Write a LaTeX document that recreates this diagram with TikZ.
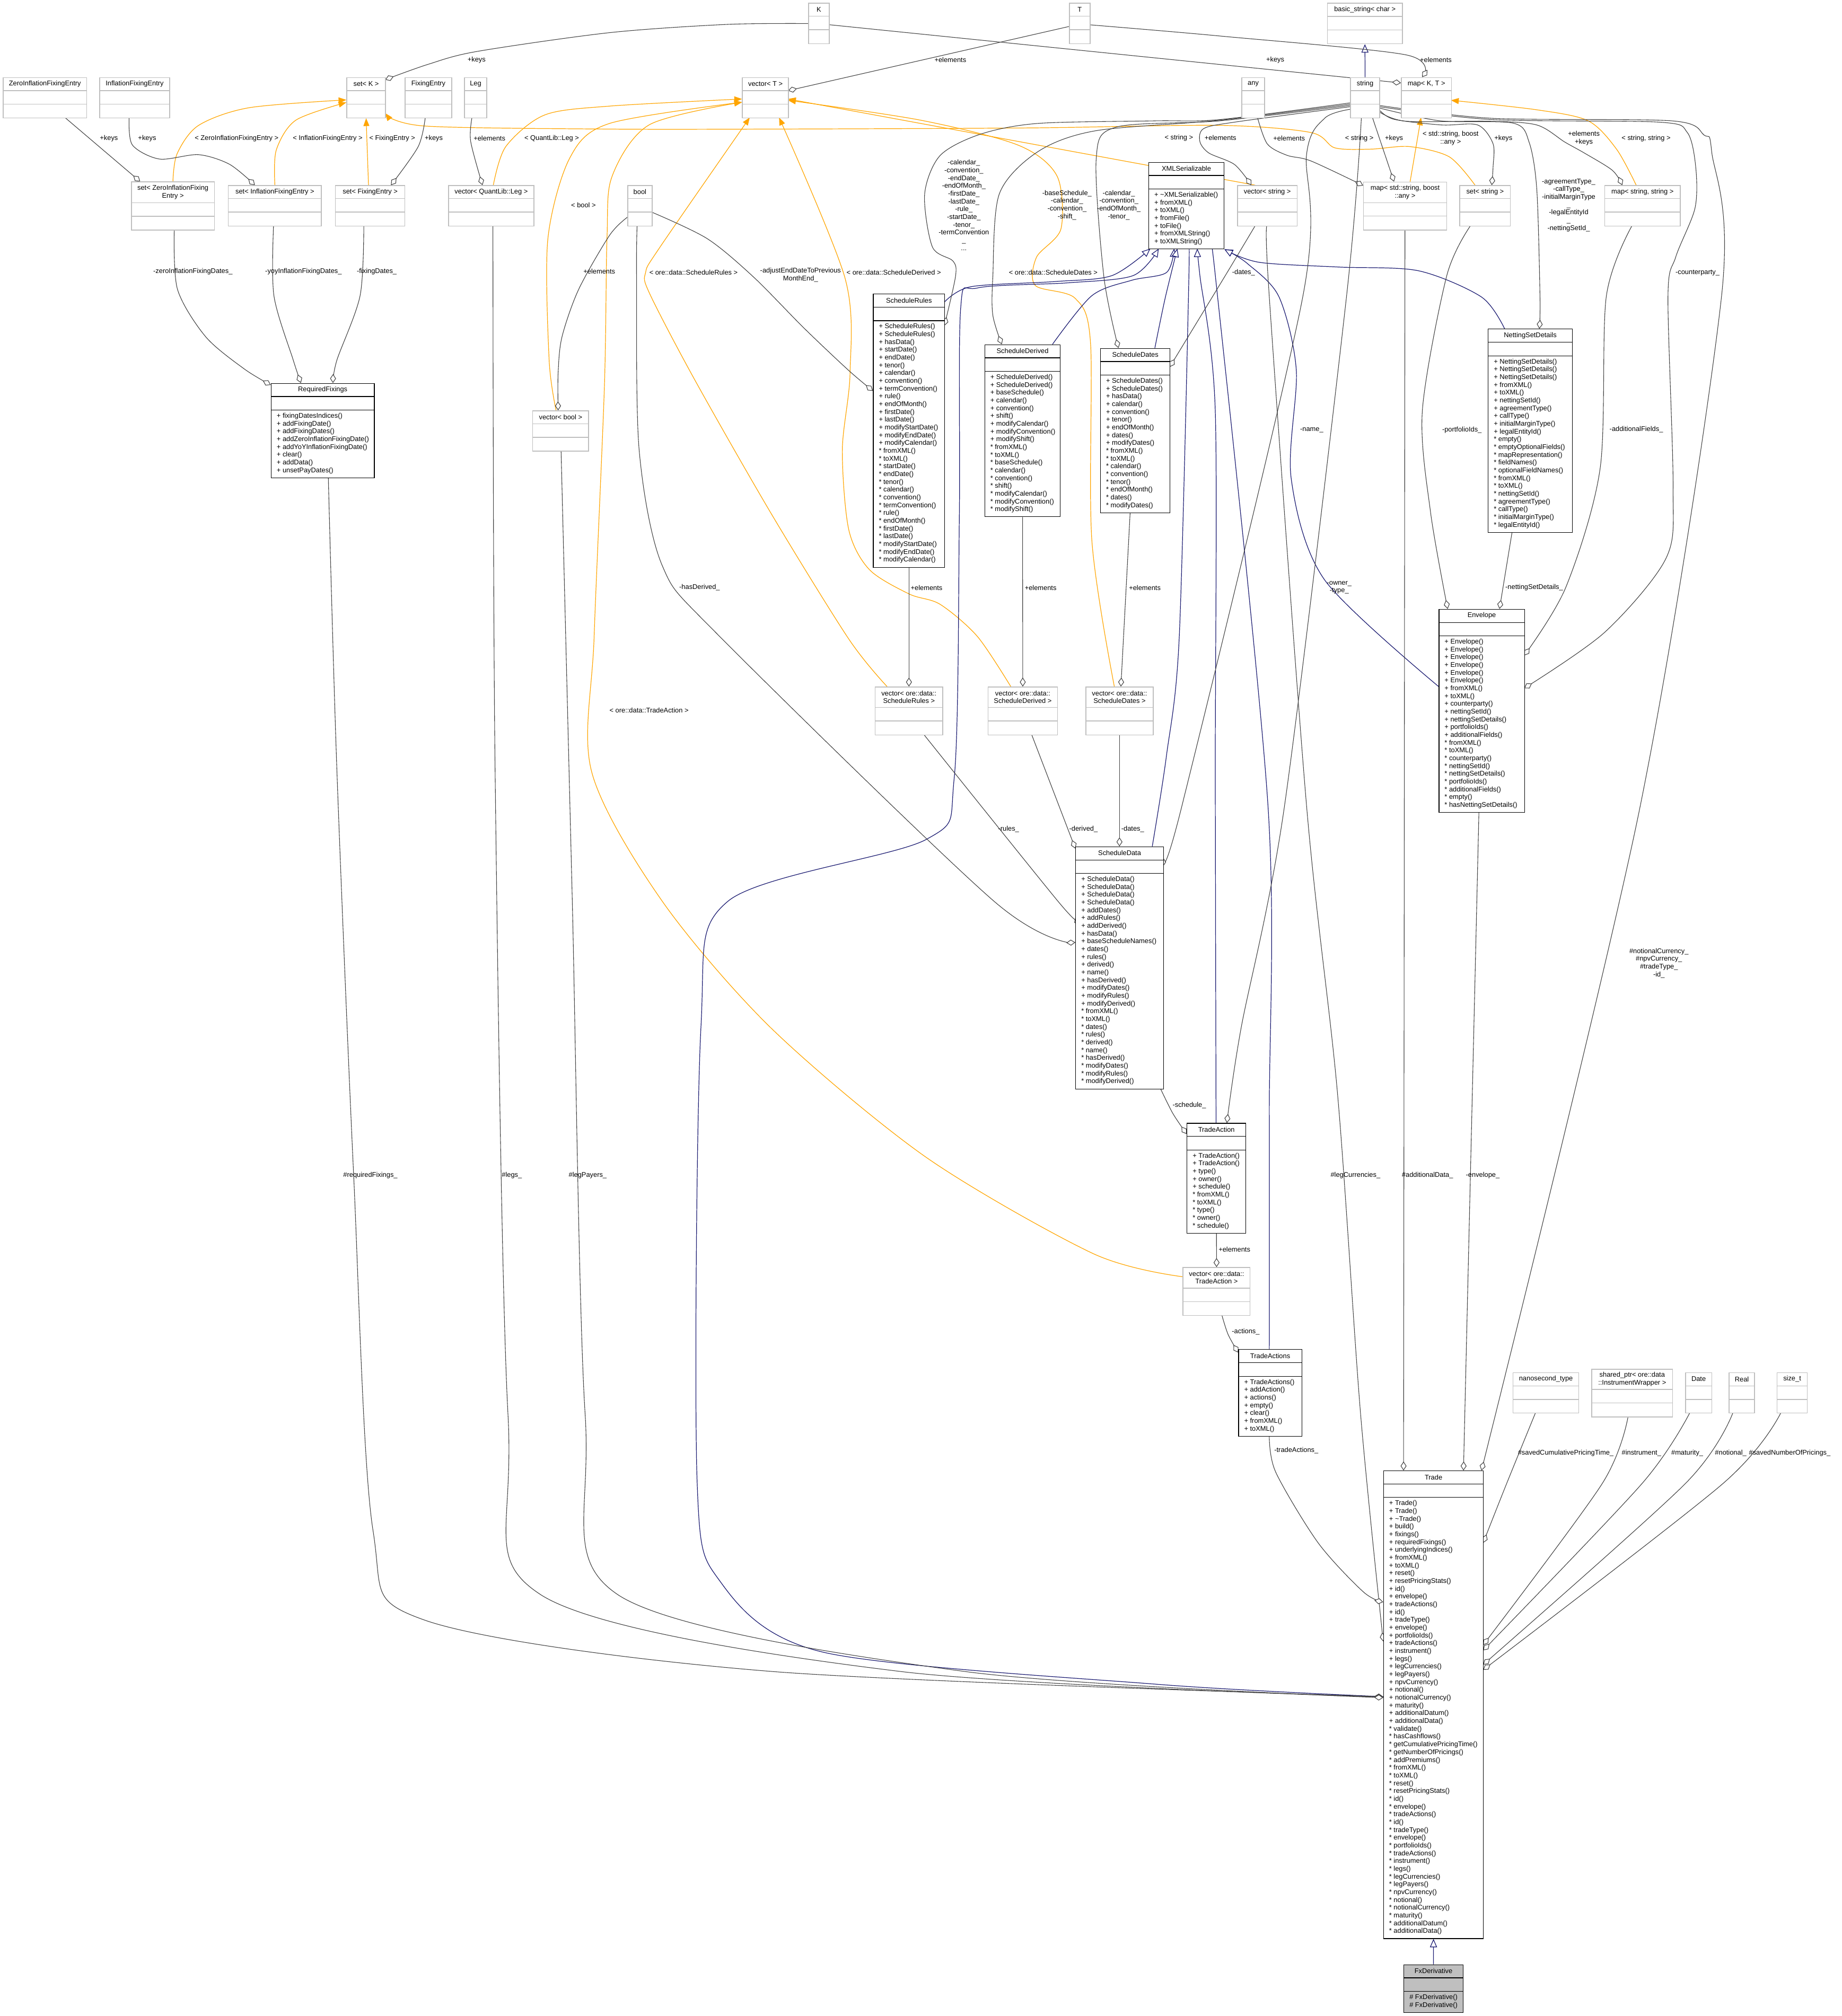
\documentclass[tikz,border=0pt]{standalone}
\usepackage{fontspec}
\newfontfamily\umlsans{Liberation Sans}
\usetikzlibrary{arrows.meta}

\definecolor{boxgray}{HTML}{BFBFBF}
\definecolor{edgegray}{HTML}{404040}
\definecolor{tplorange}{HTML}{FFA500}
\definecolor{inhblue}{HTML}{191970}

\newcommand{\umlfont}{\umlsans\fontsize{5.3}{6.05}\selectfont}

\pgfdeclarelayer{edges}
\pgfsetlayers{edges,main}

\tikzset{
  umlframe/.style={shape=rectangle,anchor=north west,inner sep=0pt,fill=white},
  ext/.style={draw=boxgray,line width=0.6pt},
  cls/.style={draw=black,line width=0.5pt},
  base/.style={draw=black,line width=0.5pt,fill=boxgray},
  umltitle/.style={font=\umlfont,inner sep=0pt,align=center},
  umlops/.style={font=\umlfont,inner sep=0pt,align=left,anchor=north west},
  lbl/.style={font=\umlfont,inner sep=0pt,align=center},
  assoc/.style={draw=edgegray,line width=0.45pt,-{Diamond[length=7pt,width=4.6pt,fill=white]}},
  tmpl/.style={draw=tplorange,line width=0.5pt,-{Triangle[length=6pt,width=4.6pt]}},
  isa/.style={draw=inhblue,line width=0.5pt,-{Triangle[length=6.5pt,width=5.5pt,fill=white]}}
}

% class box: [style]{name}{x}{y}{width}{height}{title height}{title}{operations}
\newcommand{\umlclass}[9][]{%
  \node[umlframe,#1,minimum width=#5pt,minimum height=#6pt] (#2) at (#3,#4) {};
  \draw[#1] ([yshift=-#7pt]#2.north west) -- ([yshift=-#7pt]#2.north east)
    ([yshift=-#7pt-10.5pt]#2.north west) -- ([yshift=-#7pt-10.5pt]#2.north east);
  \node[umltitle] (#2title) at ([yshift=-#7pt/2]#2.north) {#8};
  \node[umlops] (#2ops) at ([shift={(4.4pt,-#7pt-12.6pt)}]#2.north west) {#9};
}

\begin{document}
\begin{tikzpicture}[x=1pt,y=-1pt]
\useasboundingbox (0,0) rectangle (1432,1568);

% external types
\umlclass[ext]{nK}{628.5}{2.1}{16}{31.6}{10.5}{K}{}
\umlclass[ext]{nT}{831.3}{2.1}{16}{31.6}{10.5}{T}{}
\umlclass[ext]{nBasicStr}{1031.8}{2.2}{58.5}{31.6}{10.5}{basic\_string< char >}{}
\umlclass[ext]{nZeroEntry}{2.1}{60}{65.1}{31.4}{10.5}{ZeroInflationFixingEntry}{}
\umlclass[ext]{nInflEntry}{77.2}{60}{54.4}{31.4}{10.5}{InflationFixingEntry}{}
\umlclass[ext]{nSetK}{269.3}{60}{30.2}{31.4}{10.5}{set< K >}{}
\umlclass[ext]{nFixEntry}{314.7}{60}{36.3}{31.4}{10.5}{FixingEntry}{}
\umlclass[ext]{nLeg}{360.9}{60}{17.3}{31.4}{10.5}{Leg}{}
\umlclass[ext]{nVecT}{577}{60}{35.8}{31.4}{10.5}{vector< T >}{}
\umlclass[ext]{nAny}{965.4}{60}{17.6}{31.4}{10.5}{any}{}
\umlclass[ext]{nString}{1049.9}{60}{22.6}{31.4}{10.5}{string}{}
\umlclass[ext]{nMapKT}{1089.4}{60}{38.9}{31.4}{10.5}{map< K, T >}{}
\umlclass[ext]{nSetZero}{101.9}{141.2}{64.5}{37.5}{16.5}{set< ZeroInflationFixing\\Entry >}{}
\umlclass[ext]{nSetInfl}{177.3}{144}{72.3}{31.6}{10.5}{set< InflationFixingEntry >}{}
\umlclass[ext]{nSetFix}{260.5}{144}{54.1}{31.6}{10.5}{set< FixingEntry >}{}
\umlclass[ext]{nVecLeg}{348.5}{144}{66.3}{31.6}{10.5}{vector< QuantLib::Leg >}{}
\umlclass[ext]{nBool}{487.8}{144}{19}{31.6}{10.5}{bool}{}
\umlclass[ext]{nVecStr}{962}{144}{46.3}{31.6}{10.5}{vector< string >}{}
\umlclass[ext]{nMapAny}{1060}{141.3}{64.6}{37.3}{16.3}{map< std::string, boost\\::any >}{}
\umlclass[ext]{nSetStr}{1134.8}{144}{39.4}{31.6}{10.5}{set< string >}{}
\umlclass[ext]{nMapStr}{1247.6}{144}{58.6}{31.6}{10.5}{map< string, string >}{}
\umlclass[ext]{nVecBool}{413.9}{319.2}{43.5}{31.4}{10.5}{vector< bool >}{}
\umlclass[ext]{nVecRules}{680.3}{534}{52.4}{37.3}{16.3}{vector< ore::data::\\ScheduleRules >}{}
\umlclass[ext]{nVecDerived}{768}{534}{54}{37.3}{16.3}{vector< ore::data::\\ScheduleDerived >}{}
\umlclass[ext]{nVecDates}{844}{534}{52.5}{37.3}{16.3}{vector< ore::data::\\ScheduleDates >}{}
\umlclass[ext]{nVecAction}{919.6}{985.5}{52.2}{37.3}{16.3}{vector< ore::data::\\TradeAction >}{}
\umlclass[ext]{nNano}{1176.2}{1067.4}{51.2}{31.4}{10.5}{nanosecond\_type}{}
\umlclass[ext]{nShared}{1237.5}{1064.6}{62.8}{37.1}{16.1}{shared\_ptr< ore::data\\::InstrumentWrapper >}{}
\umlclass[ext]{nDate}{1310.4}{1067.4}{20.3}{31.4}{10.5}{Date}{}
\umlclass[ext]{nReal}{1344.3}{1067.4}{19.7}{31.4}{10.5}{Real}{}
\umlclass[ext]{nSizeT}{1381.5}{1067.4}{23.6}{31.4}{10.5}{size\_t}{}

% documented classes
\umlclass[cls]{nXML}{893}{126}{58.6}{67.4}{10.5}{XMLSerializable}{+ \textasciitilde XMLSerializable()\\+ fromXML()\\+ toXML()\\+ fromFile()\\+ toFile()\\+ fromXMLString()\\+ toXMLString()}
\umlclass[cls]{nRules}{678.8}{228.4}{55.5}{212.6}{10.5}{ScheduleRules}{+ ScheduleRules()\\+ ScheduleRules()\\+ hasData()\\+ startDate()\\+ endDate()\\+ tenor()\\+ calendar()\\+ convention()\\+ termConvention()\\+ rule()\\+ endOfMonth()\\+ firstDate()\\+ lastDate()\\+ modifyStartDate()\\+ modifyEndDate()\\+ modifyCalendar()\\* fromXML()\\* toXML()\\* startDate()\\* endDate()\\* tenor()\\* calendar()\\* convention()\\* termConvention()\\* rule()\\* endOfMonth()\\* firstDate()\\* lastDate()\\* modifyStartDate()\\* modifyEndDate()\\* modifyCalendar()}
\umlclass[cls]{nDerived}{765.5}{267.8}{58.8}{133.9}{10.5}{ScheduleDerived}{+ ScheduleDerived()\\+ ScheduleDerived()\\+ baseSchedule()\\+ calendar()\\+ convention()\\+ shift()\\+ modifyCalendar()\\+ modifyConvention()\\+ modifyShift()\\* fromXML()\\* toXML()\\* baseSchedule()\\* calendar()\\* convention()\\* shift()\\* modifyCalendar()\\* modifyConvention()\\* modifyShift()}
\umlclass[cls]{nDates}{855.5}{270.7}{54.1}{127.9}{10.5}{ScheduleDates}{+ ScheduleDates()\\+ ScheduleDates()\\+ hasData()\\+ calendar()\\+ convention()\\+ tenor()\\+ endOfMonth()\\+ dates()\\+ modifyDates()\\* fromXML()\\* toXML()\\* calendar()\\* convention()\\* tenor()\\* endOfMonth()\\* dates()\\* modifyDates()}
\umlclass[cls]{nNetting}{1157}{255.7}{65.4}{158.1}{10.5}{NettingSetDetails}{+ NettingSetDetails()\\+ NettingSetDetails()\\+ NettingSetDetails()\\+ fromXML()\\+ toXML()\\+ nettingSetId()\\+ agreementType()\\+ callType()\\+ initialMarginType()\\+ legalEntityId()\\* empty()\\* emptyOptionalFields()\\* mapRepresentation()\\* fieldNames()\\* optionalFieldNames()\\* fromXML()\\* toXML()\\* nettingSetId()\\* agreementType()\\* callType()\\* initialMarginType()\\* legalEntityId()}
\umlclass[cls]{nEnvelope}{1118.7}{473.6}{66.5}{158.1}{10.5}{Envelope}{+ Envelope()\\+ Envelope()\\+ Envelope()\\+ Envelope()\\+ Envelope()\\+ Envelope()\\+ fromXML()\\+ toXML()\\+ counterparty()\\+ nettingSetId()\\+ nettingSetDetails()\\+ portfolioIds()\\+ additionalFields()\\* fromXML()\\* toXML()\\* counterparty()\\* nettingSetId()\\* nettingSetDetails()\\* portfolioIds()\\* additionalFields()\\* empty()\\* hasNettingSetDetails()}
\umlclass[cls]{nReqFix}{210.6}{297.9}{80.2}{73.4}{10.5}{RequiredFixings}{+ fixingDatesIndices()\\+ addFixingDate()\\+ addFixingDates()\\+ addZeroInflationFixingDate()\\+ addYoYInflationFixingDate()\\+ clear()\\+ addData()\\+ unsetPayDates()}
\umlclass[cls]{nSchedData}{836.2}{658.3}{68.3}{188.4}{10.5}{ScheduleData}{+ ScheduleData()\\+ ScheduleData()\\+ ScheduleData()\\+ ScheduleData()\\+ addDates()\\+ addRules()\\+ addDerived()\\+ hasData()\\+ baseScheduleNames()\\+ dates()\\+ rules()\\+ derived()\\+ name()\\+ hasDerived()\\+ modifyDates()\\+ modifyRules()\\+ modifyDerived()\\* fromXML()\\* toXML()\\* dates()\\* rules()\\* derived()\\* name()\\* hasDerived()\\* modifyDates()\\* modifyRules()\\* modifyDerived()}
\umlclass[cls]{nTradeAction}{922.8}{873.4}{45.7}{85.5}{10.5}{TradeAction}{+ TradeAction()\\+ TradeAction()\\+ type()\\+ owner()\\+ schedule()\\* fromXML()\\* toXML()\\* type()\\* owner()\\* schedule()}
\umlclass[cls]{nTradeActions}{962.9}{1049.4}{49.1}{67.4}{10.5}{TradeActions}{+ TradeActions()\\+ addAction()\\+ actions()\\+ empty()\\+ clear()\\+ fromXML()\\+ toXML()}
\umlclass[cls]{nTrade}{1075.6}{1143.7}{77.7}{363.8}{10.5}{Trade}{+ Trade()\\+ Trade()\\+ \textasciitilde Trade()\\+ build()\\+ fixings()\\+ requiredFixings()\\+ underlyingIndices()\\+ fromXML()\\+ toXML()\\+ reset()\\+ resetPricingStats()\\+ id()\\+ envelope()\\+ tradeActions()\\+ id()\\+ tradeType()\\+ envelope()\\+ portfolioIds()\\+ tradeActions()\\+ instrument()\\+ legs()\\+ legCurrencies()\\+ legPayers()\\+ npvCurrency()\\+ notional()\\+ notionalCurrency()\\+ maturity()\\+ additionalDatum()\\+ additionalData()\\* validate()\\* hasCashflows()\\* getCumulativePricingTime()\\* getNumberOfPricings()\\* addPremiums()\\* fromXML()\\* toXML()\\* reset()\\* resetPricingStats()\\* id()\\* envelope()\\* tradeActions()\\* id()\\* tradeType()\\* envelope()\\* portfolioIds()\\* tradeActions()\\* instrument()\\* legs()\\* legCurrencies()\\* legPayers()\\* npvCurrency()\\* notional()\\* notionalCurrency()\\* maturity()\\* additionalDatum()\\* additionalData()}
\umlclass[base]{nFx}{1091.4}{1527.8}{46}{37.1}{10.5}{FxDerivative}{\# FxDerivative()\\\# FxDerivative()}

\begin{pgfonlayer}{edges}
% template instances
\draw[tmpl] plot[smooth] coordinates {(nSetZero.north) (137.7,119.6) (154.3,97.6) (193.6,83.8) ([shift={(0,17.7)}]nSetK.north west)};
\draw[tmpl] plot[smooth] coordinates {(nSetInfl.north) (214.8,116.8) (230,93.5) ([shift={(0,19.7)}]nSetK.north west)};
\draw[tmpl] ([xshift=-1.3pt]nSetFix.north) -- (nSetK.south);
\draw[tmpl] plot[smooth] coordinates {([shift={(35.1,0)}]nVecLeg.north west) (393.3,114) (423.6,89.4) (474.3,82.5) ([shift={(0,17)}]nVecT.north west)};
\draw[tmpl] plot[smooth] coordinates {([shift={(18.5,0)}]nVecBool.north west) (427,280) (426,186) (443,123) (474,96) ([shift={(0,19.5)}]nVecT.north west)};
\draw[tmpl] plot[smooth] coordinates {([shift={(0,7.5)}]nVecAction.north west) (850,975) (720,900) (600,800) (515,701) (460,600) (462,495) (470,300) (472,185) (476,137) (505,97) ([shift={(0,19.5)}]nVecT.north west)};
\draw[tmpl] plot[smooth] coordinates {([shift={(9.5,0)}]nVecRules.north west) (660,497) (600,400) (540,295) (505,228) (502,212) (513,192.5) ([shift={(6,31.4)}]nVecT.north west)};
\draw[tmpl] plot[smooth] coordinates {([shift={(18,0)}]nVecDerived.north west) (760,495) (731,470) (707,462) (676,443) (660,412) (655,350) (661,290) (657,216) ([shift={(28.8,31.4)}]nVecT.north west)};
\draw[tmpl] plot[smooth] coordinates {([shift={(22.5,0)}]nVecDates.north west) (849,420) (848,267) (836,232) (805,222) (806,200) (825,178) (822,137) (792,113) (716,93.5) ([shift={(35.8,18)}]nVecT.north west)};
\draw[tmpl] ([shift={(14,0)}]nVecStr.north west) -- ([shift={(35.8,17)}]nVecT.north west);
\draw[tmpl] plot[smooth] coordinates {([shift={(12.2,0)}]nSetStr.north west) (1127,122) (1096,114) (1066,116) (1038,115) (1019,103) (948,97.5) (800,99.5) (600,100.4) (474,100.4) (330,98) ([shift={(30.2,28)}]nSetK.north west)};
\draw[tmpl] ([shift={(36.5,0)}]nMapAny.north west) -- ([shift={(15.6,31.4)}]nMapKT.north west);
\draw[tmpl] plot[smooth] coordinates {([shift={(24.7,0)}]nMapStr.north west) (1257,116) (1235,94) (1195,85.4) ([shift={(38.9,18)}]nMapKT.north west)};

% inheritance
\draw[isa] (nString.north) -- (nBasicStr.south);
\draw[isa] (nFx.north) -- (nTrade.south);
\draw[isa] plot[smooth] coordinates {([shift={(55.5,6.6)}]nRules.north west) (755,223) (820,219) (864.5,214.4) ([shift={(1.5,67.4)}]nXML.north west)};
\draw[isa] plot[smooth] coordinates {([shift={(52.9,0)}]nDerived.north west) (849,230) (880,218) (907,212) ([shift={(20,67.4)}]nXML.north west)};
\draw[isa] plot[smooth] coordinates {([shift={(42.5,0)}]nDates.north west) (906,232) ([shift={(22.5,67.4)}]nXML.north west)};
\draw[isa] plot[smooth] coordinates {([shift={(59.8,0)}]nSchedData.north west) (907,588) (917,495) (924.5,214) ([shift={(30.5,67.4)}]nXML.north west)};
\draw[isa] plot[smooth] coordinates {([shift={(22.8,0)}]nTradeAction.north west) (945,600) (945,320) (933,214) ([shift={(38,67.4)}]nXML.north west)};
\draw[isa] plot[smooth] coordinates {([shift={(24.1,0)}]nTradeActions.north west) (987,866) (986,627) (945,214) ([shift={(47,67.4)}]nXML.north west)};
\draw[isa] plot[smooth] coordinates {([shift={(0,60.4)}]nEnvelope.north west) (1030,451) (1004,372) (1008,288) (994.6,231) (970,205) (nXML.south east)};
\draw[isa] plot[smooth] coordinates {([shift={(13,0)}]nNetting.north west) (1152,231) (1103,210.6) (1041,207.7) (979,204) (nXML.south east)};
\draw[isa] plot[smooth] coordinates {([shift={(0,175.9)}]nTrade.north west) (900,1310) (640,1285) (560,1230) (542,1150) (545,800) (566,701) (720,653) (742,605) (746,400) (747,240) (760,224) (830,220) (881,214.4) ([shift={(8,67.4)}]nXML.north west)};

% members
\draw[assoc] plot[smooth] coordinates {([shift={(0,16.2)}]nK.north west) (565,19) (474,25.4) (371,40) (333,50) ([shift={(30.2,2)}]nSetK.north west)};
\draw[assoc] ([shift={(16,17.1)}]nK.north west) -- ([shift={(0,4.5)}]nMapKT.north west);
\draw[assoc] ([shift={(0,18.5)}]nT.north west) -- ([shift={(35.8,10.5)}]nVecT.north west);
\draw[assoc] plot[smooth] coordinates {([shift={(16,17.2)}]nT.north west) (948.5,28) (1093.4,42.7) ([shift={(16.4,0)}]nMapKT.north west)};
\draw[assoc] ([shift={(48.4,31.4)}]nZeroEntry.north west) -- ([shift={(7.1,0)}]nSetZero.north west);
\draw[assoc] plot[smooth] coordinates {([shift={(23.2,31.4)}]nInflEntry.north west) (102.9,112.7) (124,123.7) (154.3,120.3) (178.5,127.8) ([shift={(20.9,0)}]nSetInfl.north west)};
\draw[assoc] plot[smooth] coordinates {([shift={(16,31.4)}]nFixEntry.north west) (325.2,114) ([shift={(43.5,0)}]nSetFix.north west)};
\draw[assoc] plot[smooth] coordinates {([shift={(6.1,31.4)}]nLeg.north west) (366,110) ([shift={(26.7,0)}]nVecLeg.north west)};

\draw[assoc] plot[smooth] coordinates {([shift={(0,20)}]nString.north west) (948.5,93) (898,94) (807,96) (762,104.5) (731,121) (719,151) (725,192) (741,203) (743,215) ([shift={(55.5,25)}]nRules.north west)};
\draw[assoc] plot[smooth] coordinates {([shift={(0,21)}]nString.north west) (948.5,93.5) (852,101.7) (807,118) (777,151) (772,215.5) (772,245) ([shift={(13.5,0)}]nDerived.north west)};
\draw[assoc] plot[smooth] coordinates {([shift={(0,22)}]nString.north west) (948.5,94) (867.5,99) (852.4,123.7) (858.4,215.5) ([shift={(14.2,0)}]nDates.north west)};
\draw[assoc] plot[smooth] coordinates {([shift={(0,23)}]nString.north west) (960,95) (936,100) (933,110) (940,119) (960,128) ([shift={(11,0)}]nVecStr.north west)};
\draw[assoc] plot[smooth] coordinates {([shift={(12.4,31.4)}]nAny.north west) (985.5,112) (1000.8,120.8) (1019.4,125.2) ([shift={(0,3)}]nMapAny.north west)};
\draw[assoc] ([shift={(17.3,31.4)}]nString.north west) -- ([shift={(24,0)}]nMapAny.north west);
\draw[assoc] plot[smooth] coordinates {([shift={(22.6,25.4)}]nString.north west) (1084,92.8) (1121,97.2) (1149,97.2) (1161,111.8) (1161,130) ([shift={(25.2,0)}]nSetStr.north west)};
\draw[assoc] plot[smooth] coordinates {([shift={(22.6,27)}]nString.north west) (1093.4,94.3) (1158,94.3) (1195,97.2) (1216.8,110.5) (1232.3,119.2) (1253.8,132.5) ([shift={(13.9,0)}]nMapStr.north west)};
\draw[assoc] plot[smooth] coordinates {([shift={(22.6,24)}]nString.north west) (1120,94) (1176.7,95.8) (1189,110.5) (1195,147.3) (1197.5,231) ([shift={(40,0)}]nNetting.north west)};
\draw[assoc] plot[smooth] coordinates {([shift={(22.6,23)}]nString.north west) (1160,93) (1290,95) (1312,103) (1318.6,130) (1318,162) (1303,200) (1297,231) (1301,379) (1295.6,434) (1248,491.6) ([shift={(66.5,61.7)}]nEnvelope.north west)};
\draw[assoc] plot[smooth] coordinates {([shift={(22.6,22)}]nString.north west) (1160,92) (1300,94) (1325,105) (1331,118) (1338.6,231) (1274.6,631) ([shift={(76.4,0)}]nTrade.north west)};
\draw[assoc] plot[smooth] coordinates {([shift={(0,25)}]nString.north west) (1030,92) (1016,120) (1013,231) (919,627) ([shift={(68.3,8.7)}]nSchedData.north west)};
\draw[assoc] plot[smooth] coordinates {([shift={(8.7,31.4)}]nString.north west) (1047,231) (998.8,627) (965,800) ([shift={(31.2,0)}]nTradeAction.north west)};
\draw[assoc] plot[smooth] coordinates {([shift={(14,31.6)}]nVecStr.north west) (953,214) ([shift={(54.1,14.7)}]nDates.north west)};
\draw[assoc] plot[smooth] coordinates {([shift={(23.5,31.6)}]nVecStr.north west) (987,231) (1016,627) (1040,850) (1058,1100) ([shift={(0,133)}]nTrade.north west)};
\draw[assoc] ([shift={(32.5,37.3)}]nMapAny.north west) -- ([shift={(15.8,0)}]nTrade.north west);
\draw[assoc] plot[smooth] coordinates {([shift={(8.6,31.6)}]nSetStr.north west) (1125,214.4) (1106,319.6) (1112.4,398.5) ([shift={(7,0)}]nEnvelope.north west)};
\draw[assoc] ([shift={(18.8,158.1)}]nNetting.north west) -- ([shift={(47.3,0)}]nEnvelope.north west);
\draw[assoc] plot[smooth] coordinates {([shift={(21.4,31.6)}]nMapStr.north west) (1249,231) (1244.3,364) (1217.7,456.5) ([shift={(66.5,36.2)}]nEnvelope.north west)};
\draw[assoc] ([shift={(31.3,158.1)}]nEnvelope.north west) -- ([shift={(62.4,0)}]nTrade.north west);

\draw[assoc] plot[smooth] coordinates {([shift={(0,25)}]nBool.north west) (474,183) (450,225) (437,262) (434,290) ([shift={(20.1,0)}]nVecBool.north west)};
\draw[assoc] plot[smooth] coordinates {([shift={(19,21)}]nBool.north west) (549.9,185.6) (586,215.5) (625,255) (659.8,288) ([shift={(0,75.6)}]nRules.north west)};
\draw[assoc] plot[smooth] coordinates {([shift={(7.6,31.6)}]nBool.north west) (495,215) (497,350) (515,440) (559.4,494.8) (773,701) ([shift={(0,74.7)}]nSchedData.north west)};

\draw[assoc] (nRules.south) -- (nVecRules.north);
\draw[assoc] (nDerived.south) -- (nVecDerived.north);
\draw[assoc] ([shift={(23.3,127.9)}]nDates.north west) -- ([shift={(27.6,0)}]nVecDates.north west);
\draw[assoc] plot[smooth] coordinates {([shift={(38.1,37.3)}]nVecRules.north west) (822.7,701) ([shift={(0,55.1)}]nSchedData.north west)};
\draw[assoc] ([shift={(34.2,37.3)}]nVecDerived.north west) -- ([shift={(0,1.7)}]nSchedData.north west);
\draw[assoc] ([shift={(26.5,37.3)}]nVecDates.north west) -- ([shift={(34.3,0)}]nSchedData.north west);
\draw[assoc] plot[smooth] coordinates {([shift={(66.2,188.4)}]nSchedData.north west) (912,866) ([shift={(0,8.6)}]nTradeAction.north west)};
\draw[assoc] (nTradeAction.south) -- (nVecAction.north);
\draw[assoc] plot[smooth] coordinates {([shift={(30.5,37.3)}]nVecAction.north west) (955,1038) ([shift={(0,2.6)}]nTradeActions.north west)};
\draw[assoc] plot[smooth] coordinates {([shift={(24.1,67.4)}]nTradeActions.north west) (992,1145) (1025,1200) (1060,1238) ([shift={(0,102.3)}]nTrade.north west)};

\draw[assoc] plot[smooth] coordinates {([shift={(33.6,37.5)}]nSetZero.north west) (138,225) (160,262) (190,287) ([shift={(0,1.5)}]nReqFix.north west)};
\draw[assoc] plot[smooth] coordinates {([shift={(35.4,31.6)}]nSetInfl.north west) (213,230) (228,280) ([shift={(23.4,0)}]nReqFix.north west)};
\draw[assoc] plot[smooth] coordinates {([shift={(22.4,31.6)}]nSetFix.north west) (280,230) (262,280) ([shift={(48.3,0)}]nReqFix.north west)};
\draw[assoc] plot[smooth] coordinates {([shift={(44.7,73.4)}]nReqFix.north west) (262,600) (275,914) (290,1190) (330,1260) (600,1300) ([shift={(0,175.9)}]nTrade.north west)};
\draw[assoc] plot[smooth] coordinates {([shift={(34.8,31.6)}]nVecLeg.north west) (385,600) (395,1100) (420,1240) (700,1300) ([shift={(0,176.3)}]nTrade.north west)};
\draw[assoc] plot[smooth] coordinates {([shift={(22.4,31.4)}]nVecBool.north west) (445,700) (455,1100) (480,1240) (750,1300) ([shift={(0,176.7)}]nTrade.north west)};

\draw[assoc] plot[smooth] coordinates {([shift={(17.8,31.4)}]nNano.north west) (1171.5,1154) ([shift={(77.7,56.3)}]nTrade.north west)};
\draw[assoc] plot[smooth] coordinates {([shift={(28.5,37.1)}]nShared.north west) (1245.8,1154) ([shift={(77.7,135.7)}]nTrade.north west)};
\draw[assoc] plot[smooth] coordinates {([shift={(3.6,31.4)}]nDate.north west) (1276.7,1154) ([shift={(77.7,139.9)}]nTrade.north west)};
\draw[assoc] plot[smooth] coordinates {([shift={(3.2,31.4)}]nReal.north west) (1310.4,1154) ([shift={(77.7,151)}]nTrade.north west)};
\draw[assoc] plot[smooth] coordinates {([shift={(3.3,31.4)}]nSizeT.north west) (1339.6,1154) ([shift={(77.7,155.1)}]nTrade.north west)};
\end{pgfonlayer}

% edge labels
\node[lbl] (lKeysK) at (370.6,46.5) {+keys};
\node[lbl] (lKeysMap) at (991.6,46.5) {+keys};
\node[lbl] (lElemT) at (739,46.5) {+elements};
\node[lbl] (lElemMap) at (1116.5,46.5) {+elements};
\node[lbl] (lKeysZero) at (84.7,107.5) {+keys};
\node[lbl] (lKeysInfl) at (114.4,107.5) {+keys};
\node[lbl] (lTZero) at (184,107.5) {< ZeroInflationFixingEntry >};
\node[lbl] (lTInfl) at (254.8,107.5) {< InflationFixingEntry >};
\node[lbl] (lTFix) at (305,107.5) {< FixingEntry >};
\node[lbl] (lKeysFix) at (337.3,107.5) {+keys};
\node[lbl] (lElemLeg) at (380.6,107.5) {+elements};
\node[lbl] (lTLeg) at (429,107.5) {< QuantLib::Leg >};
\node[lbl] (lTBool) at (453.7,159.5) {< bool >};
\node[lbl] (lTRules) at (539.3,211.7) {< ore::data::ScheduleRules >};
\node[lbl] (lAdjust) at (622.5,213.8) {-adjustEndDateToPrevious\\MonthEnd\_};
\node[lbl] (lTDerived) at (695,211.7) {< ore::data::ScheduleDerived >};
\node[lbl] (lTDates) at (819,211.7) {< ore::data::ScheduleDates >};
\node[lbl] (lTVecStr) at (916.7,107.2) {< string >};
\node[lbl] (lElemVecStr) at (949,107.2) {+elements};
\node[lbl] (lElemAny) at (1002.4,107.5) {+elements};
\node[lbl] (lTSetStr) at (1057,107.5) {< string >};
\node[lbl] (lKeysMapAny) at (1084,107.5) {+keys};
\node[lbl] (lTMapAny) at (1128,107.4) {< std::string, boost\\::any >};
\node[lbl] (lKeysSetStr) at (1169,107.5) {+keys};
\node[lbl] (lElemMapStr) at (1231.6,107.4) {+elements\\+keys};
\node[lbl] (lTMapStr) at (1280,107.5) {< string, string >};
\node[lbl] (lNetting) at (1219.8,159.6) {-agreementType\_\\-callType\_\\-initialMarginType\\\_\\-legalEntityId\\\_\\-nettingSetId\_};
\node[lbl] (lRulesAttr) at (749.5,159.5) {-calendar\_\\-convention\_\\-endDate\_\\-endOfMonth\_\\-firstDate\_\\-lastDate\_\\-rule\_\\-startDate\_\\-tenor\_\\-termConvention\\\_\\...};
\node[lbl] (lDerivedAttr) at (829.7,159.5) {-baseSchedule\_\\-calendar\_\\-convention\_\\-shift\_};
\node[lbl] (lDatesAttr) at (870,159.5) {-calendar\_\\-convention\_\\-endOfMonth\_\\-tenor\_};
\node[lbl] (lZeroDates) at (150,211) {-zeroInflationFixingDates\_};
\node[lbl] (lYoyDates) at (236,211) {-yoyInflationFixingDates\_};
\node[lbl] (lFixDates) at (293,211) {-fixingDates\_};
\node[lbl] (lElemBool) at (466,211) {+elements};
\node[lbl] (lDatesStr) at (967,212) {-dates\_};
\node[lbl] (lCounter) at (1320,212) {-counterparty\_};
\node[lbl] (lName) at (1020,334.4) {-name\_};
\node[lbl] (lPortfolio) at (1136.8,334.4) {-portfolioIds\_};
\node[lbl] (lAddFields) at (1272.4,334.1) {-additionalFields\_};
\node[lbl] (lOwner) at (1041.4,457) {-owner\_\\-type\_};
\node[lbl] (lNetDetails) at (1193,457.1) {-nettingSetDetails\_};
\node[lbl] (lHasDerived) at (544,457) {-hasDerived\_};
\node[lbl] (lElemRules) at (720.5,457) {+elements};
\node[lbl] (lElemDerived) at (809.2,457) {+elements};
\node[lbl] (lElemDates) at (890.2,457) {+elements};
\node[lbl] (lTAction) at (504.7,552.3) {< ore::data::TradeAction >};
\node[lbl] (lRules) at (784.3,644.7) {-rules\_};
\node[lbl] (lDerived) at (842.5,644.7) {-derived\_};
\node[lbl] (lDates) at (880.8,644.7) {-dates\_};
\node[lbl] (lCurrency) at (1290,749) {\#notionalCurrency\_\\\#npvCurrency\_\\\#tradeType\_\\-id\_};
\node[lbl] (lSchedule) at (924.8,859.6) {-schedule\_};
\node[lbl] (lReqFix) at (288,914) {\#requiredFixings\_};
\node[lbl] (lLegs) at (398,914) {\#legs\_};
\node[lbl] (lLegPayers) at (457,914) {\#legPayers\_};
\node[lbl] (lLegCcy) at (1054,914) {\#legCurrencies\_};
\node[lbl] (lAddData) at (1110,914) {\#additionalData\_};
\node[lbl] (lEnvelope) at (1153,914) {-envelope\_};
\node[lbl] (lElemAction) at (959.9,971.7) {+elements};
\node[lbl] (lActions) at (968.7,1035.6) {-actions\_};
\node[lbl] (lTradeActions) at (1008,1128) {-tradeActions\_};
\node[lbl] (lPricingTime) at (1217.5,1130) {\#savedCumulativePricingTime\_};
\node[lbl] (lInstrument) at (1276.4,1130) {\#instrument\_};
\node[lbl] (lMaturity) at (1312,1130) {\#maturity\_};
\node[lbl] (lNotional) at (1345.8,1130) {\#notional\_};
\node[lbl] (lPricings) at (1391.7,1130) {\#savedNumberOfPricings\_};

\end{tikzpicture}
\end{document}
